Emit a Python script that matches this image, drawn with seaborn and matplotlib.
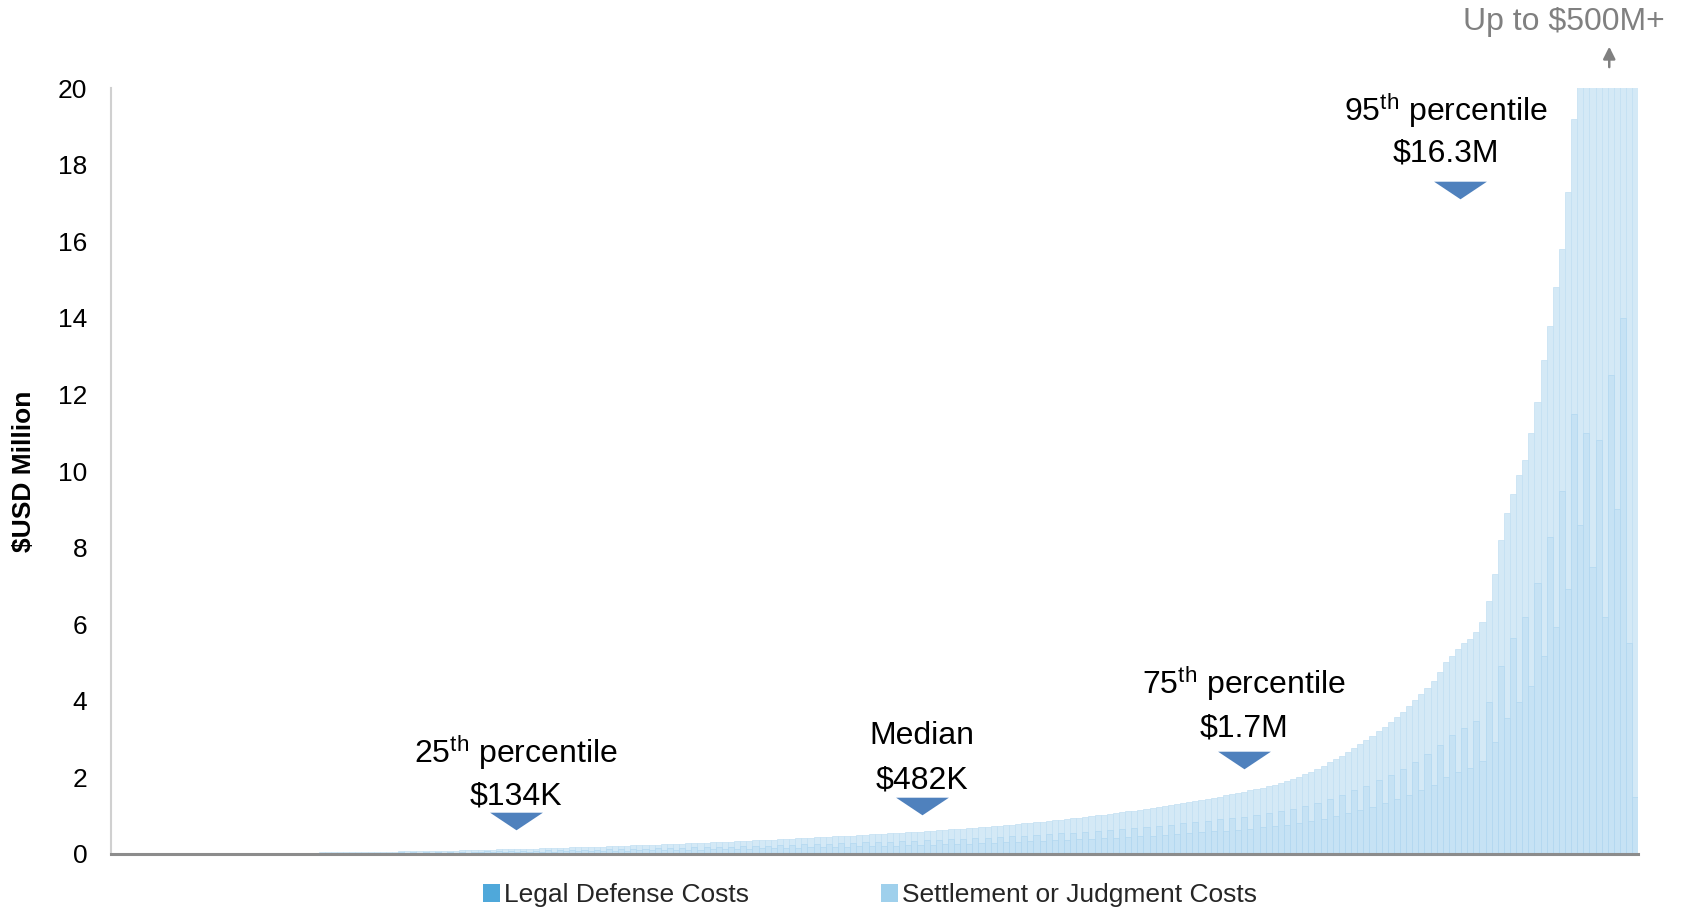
import numpy as np
import pandas as pd
import matplotlib
matplotlib.use("Agg")
import matplotlib.pyplot as plt
from matplotlib.patches import Patch
from matplotlib.path import Path
import seaborn as sns

# ---------------- data (sorted cases, $USD million) ----------------
total_cost = [
    0.001, 0.002, 0.003, 0.004, 0.005, 0.005, 0.006, 0.007, 0.008, 0.009,
    0.010, 0.011, 0.012, 0.013, 0.014, 0.015, 0.016, 0.017, 0.018, 0.019,
    0.020, 0.021, 0.022, 0.024, 0.025, 0.026, 0.028, 0.029, 0.030, 0.032,
    0.033, 0.035, 0.036, 0.038, 0.040, 0.041, 0.043, 0.045, 0.047, 0.049,
    0.051, 0.053, 0.055, 0.057, 0.059, 0.061, 0.063, 0.066, 0.068, 0.070,
    0.073, 0.075, 0.078, 0.080, 0.083, 0.086, 0.089, 0.092, 0.095, 0.098,
    0.104, 0.108, 0.113, 0.117, 0.121, 0.125, 0.130, 0.134, 0.138, 0.142,
    0.147, 0.151, 0.156, 0.160, 0.165, 0.170, 0.175, 0.180, 0.185, 0.190,
    0.195, 0.200, 0.205, 0.211, 0.216, 0.222, 0.228, 0.234, 0.240, 0.246,
    0.252, 0.258, 0.264, 0.270, 0.277, 0.283, 0.290, 0.297, 0.304, 0.311,
    0.318, 0.325, 0.332, 0.339, 0.346, 0.354, 0.361, 0.369, 0.376, 0.384,
    0.392, 0.400, 0.408, 0.416, 0.424, 0.432, 0.440, 0.449, 0.457, 0.466,
    0.474, 0.482, 0.491, 0.500, 0.509, 0.518, 0.527, 0.537, 0.546, 0.556,
    0.566, 0.576, 0.586, 0.596, 0.607, 0.618, 0.629, 0.640, 0.652, 0.664,
    0.676, 0.688, 0.701, 0.714, 0.727, 0.741, 0.755, 0.769, 0.784, 0.799,
    0.814, 0.830, 0.846, 0.862, 0.879, 0.896, 0.914, 0.932, 0.950, 0.969,
    0.988, 1.008, 1.028, 1.049, 1.070, 1.091, 1.113, 1.135, 1.158, 1.181,
    1.205, 1.229, 1.254, 1.279, 1.305, 1.331, 1.358, 1.385, 1.413, 1.442,
    1.471, 1.501, 1.532, 1.563, 1.595, 1.628, 1.662, 1.697, 1.733, 1.770,
    1.81, 1.86, 1.91, 1.96, 2.02, 2.08, 2.15, 2.23, 2.31, 2.40,
    2.48, 2.57, 2.66, 2.76, 2.86, 2.97, 3.08, 3.20, 3.32, 3.45,
    3.58, 3.72, 3.87, 4.02, 4.18, 4.34, 4.52, 4.75, 5.02, 5.18,
    5.35, 5.50, 5.62, 5.80, 6.05, 6.60, 7.30, 8.20, 8.90, 9.40,
    9.90, 10.30, 11.00, 11.80, 12.90, 13.80, 14.80, 15.80, 17.30, 19.20,
    21.5, 24.0, 28.0, 33.0, 40.0, 52.0, 70.0, 110.0, 200.0, 500.0,
]
legal_defense = [
    0.001, 0.001, 0.001, 0.002, 0.002, 0.003, 0.002, 0.004, 0.003, 0.005,
    0.004, 0.006, 0.005, 0.007, 0.006, 0.008, 0.005, 0.009, 0.007, 0.010,
    0.008, 0.012, 0.009, 0.013, 0.010, 0.015, 0.011, 0.016, 0.012, 0.018,
    0.014, 0.020, 0.013, 0.022, 0.016, 0.024, 0.015, 0.027, 0.019, 0.028,
    0.020, 0.031, 0.022, 0.034, 0.023, 0.036, 0.025, 0.040, 0.027, 0.042,
    0.029, 0.045, 0.031, 0.048, 0.033, 0.052, 0.035, 0.055, 0.038, 0.059,
    0.042, 0.065, 0.045, 0.070, 0.048, 0.075, 0.052, 0.080, 0.055, 0.085,
    0.059, 0.091, 0.062, 0.096, 0.066, 0.102, 0.070, 0.108, 0.074, 0.114,
    0.078, 0.120, 0.082, 0.127, 0.086, 0.133, 0.091, 0.140, 0.096, 0.148,
    0.101, 0.155, 0.106, 0.162, 0.111, 0.170, 0.116, 0.178, 0.122, 0.187,
    0.127, 0.195, 0.133, 0.203, 0.138, 0.212, 0.144, 0.221, 0.150, 0.230,
    0.157, 0.240, 0.163, 0.250, 0.170, 0.259, 0.176, 0.269, 0.183, 0.280,
    0.190, 0.289, 0.196, 0.300, 0.204, 0.311, 0.211, 0.322, 0.218, 0.334,
    0.226, 0.346, 0.234, 0.358, 0.243, 0.371, 0.252, 0.384, 0.261, 0.398,
    0.270, 0.413, 0.280, 0.428, 0.291, 0.445, 0.302, 0.461, 0.314, 0.479,
    0.326, 0.498, 0.338, 0.517, 0.352, 0.538, 0.366, 0.559, 0.380, 0.581,
    0.395, 0.605, 0.411, 0.629, 0.428, 0.655, 0.445, 0.681, 0.463, 0.709,
    0.482, 0.737, 0.502, 0.767, 0.522, 0.799, 0.543, 0.831, 0.565, 0.865,
    0.588, 0.901, 0.613, 0.938, 0.638, 0.977, 0.665, 1.018, 0.693, 1.062,
    0.72, 1.12, 0.76, 1.18, 0.81, 1.25, 0.86, 1.34, 0.92, 1.44,
    0.99, 1.54, 1.06, 1.66, 1.14, 1.78, 1.23, 1.92, 1.33, 2.07,
    1.43, 2.23, 1.55, 2.41, 1.67, 2.60, 1.81, 2.85, 2.01, 3.11,
    2.14, 3.30, 2.25, 3.48, 2.42, 3.96, 2.92, 4.92, 3.56, 5.64,
    3.96, 6.18, 4.40, 7.08, 5.16, 8.28, 5.92, 9.48, 6.92, 11.5,
    8.6, 11.0, 7.5, 10.8, 6.2, 12.5, 9.0, 14.0, 5.5, 1.5,
]
series_names = ["Legal Defense Costs", "Settlement or Judgment Costs"]
y_ticks = [0, 2, 4, 6, 8, 10, 12, 14, 16, 18, 20]
pct_labels = ["25", "Median", "75", "95"]
pct_values = ["$134K", "$482K", "$1.7M", "$16.3M"]
top_note = "Up to $500M+"

df = pd.DataFrame({
    "case": np.arange(len(total_cost)),
    "total": total_cost,
    "defense": legal_defense,
})

# ---------------- style ----------------
sns.set_theme(style="white")
plt.rcParams["font.family"] = ["Liberation Sans", "DejaVu Sans"]
plt.rcParams["mathtext.fontset"] = "custom"
plt.rcParams["mathtext.rm"] = "Liberation Sans"
plt.rcParams["mathtext.it"] = "Liberation Sans"

legend_colors = ["#4FA8DA", "#9FD0EC"]
bar_settle = "#D4E9F6"
bar_defense = "#C6E2F4"

fig = plt.figure(figsize=(16.82, 9.11), dpi=100)
ax = fig.add_axes([0.066, 0.0626, 0.908, 0.8405])

sns.barplot(data=df, x="case", y="total", color=bar_settle, saturation=1,
            width=1.0, linewidth=0.45, edgecolor="#BFDEF2", errorbar=None, ax=ax)
sns.barplot(data=df, x="case", y="defense", color=bar_defense, saturation=1,
            width=1.0, linewidth=0.45, edgecolor="#AFD6F0", errorbar=None, ax=ax)

ax.set_ylim(0, 20)
ax.set_xlim(-0.5, len(total_cost) - 0.5)
ax.set_xticks([])
ax.set_xlabel("")
ax.set_yticks(y_ticks)
ax.set_yticklabels([str(t) for t in y_ticks], fontsize=19, color="#000000")
ax.tick_params(axis="y", length=0, pad=17)
ax.set_ylabel("$USD Million", fontsize=19, fontweight="bold", color="#000000")
ax.yaxis.set_label_coords(-0.049, 0.5)

for s in ["top", "right"]:
    ax.spines[s].set_visible(False)
ax.spines["left"].set_color("#D0D0D0")
ax.spines["left"].set_linewidth(1.5)
ax.spines["bottom"].set_color("#8C8C8C")
ax.spines["bottom"].set_linewidth(2.2)

# ---------------- annotations ----------------
tri = Path([(-1.5, 0.5), (1.5, 0.5), (0, -0.5), (-1.5, 0.5)],
           [Path.MOVETO, Path.LINETO, Path.LINETO, Path.CLOSEPOLY])
ann = [
    # x, line1 y, line2 y, triangle x, triangle y
    (0.265, 0.133, 0.0757, 0.265, 0.043),
    (0.531, 0.154, 0.0966, 0.531, 0.0627),
    (0.742, 0.222, 0.1645, 0.742, 0.1227),
    (0.874, 0.971, 0.915, 0.883, 0.867),
]
for (lab, val, (x, y1, y2, tx, ty)) in zip(pct_labels, pct_values, ann):
    if lab == "Median":
        txt = "Median"
    else:
        txt = lab + r"$^{\mathrm{th}}$" + " percentile"
    ax.text(x, y1, txt, transform=ax.transAxes, ha="center", va="center",
            fontsize=23, color="#000000", clip_on=False)
    ax.text(x, y2, val, transform=ax.transAxes, ha="center", va="center",
            fontsize=23, color="#000000", clip_on=False)
    ax.plot([tx], [ty], transform=ax.transAxes, marker=tri, markersize=38,
            color="#4F81BD", markeredgewidth=0, linestyle="none", clip_on=False)

ax.text(0.951, 1.087, top_note, transform=ax.transAxes, ha="center",
        va="center", fontsize=23, color="#808080", clip_on=False)
ax.annotate("", xy=(0.981, 1.058), xytext=(0.981, 1.024),
            xycoords="axes fraction", textcoords="axes fraction",
            arrowprops=dict(arrowstyle="-|>,head_length=0.6,head_width=0.3",
                            color="#808080", lw=1.8))

# ---------------- legend ----------------
handles = [Patch(facecolor=c, edgecolor="none") for c in legend_colors]
fig.legend(handles, series_names, loc="center", bbox_to_anchor=(0.517, 0.0175),
           ncol=2, frameon=False, fontsize=19, handlelength=0.65,
           handleheight=0.65, handletextpad=0.15, columnspacing=5.0)

fig.savefig("out.png", dpi=100)
